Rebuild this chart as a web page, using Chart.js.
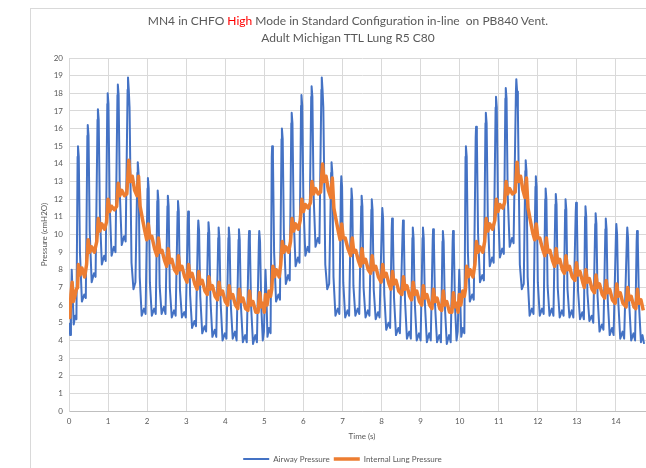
<!DOCTYPE html>
<html>
<head>
<meta charset="utf-8">
<script src="https://cdn.jsdelivr.net/npm/chart.js@4.4.1/dist/chart.umd.min.js"></script>
<style>
  html, body { margin: 0; padding: 0; background: #fff; overflow: hidden; }
  body { width: 646px; height: 468px; position: relative; }
  #frame { position: absolute; left: 30px; top: 8px; width: 700px; height: 470px; border: 1px solid #d9d9d9; box-sizing: border-box; }
  #wrap { position: absolute; left: 30px; top: 8px; width: 636px; height: 465px; }
  #title { position: absolute; left: 30px; top: 12px; width: 636px; text-align: center;
           font-family: Lato, "Open Sans", sans-serif; font-size: 12px; line-height: 17px; color: #595959; }
  #title .hi { color: #ff0000; }
</style>
</head>
<body>
<div id="frame"></div>
<div id="wrap"><canvas id="chart"></canvas></div>
<div id="title">MN4 in CHFO <span class="hi">High</span> Mode in Standard Configuration in-line&nbsp; on PB840 Vent.<br>Adult Michigan TTL Lung R5 C80</div>
<script>
// ── Airway pressure [time s, cmH2O], one line per HF cycle ──
const airwayB1 = [
  [0.00,5.0],[0.03,4.3],[0.05,5.6],[0.07,8.0],[0.09,6.8],[0.12,4.9],[0.16,5.4],[0.19,5.2],
  [0.22,14.4],[0.23,15.0],[0.25,14.4],[0.28,9.0],[0.33,6.2],[0.39,6.6],[0.43,6.4],
  [0.47,15.6],[0.48,16.2],[0.50,15.6],[0.53,10.2],[0.58,7.3],[0.64,7.8],[0.68,7.6],
  [0.73,16.5],[0.74,17.1],[0.76,16.5],[0.79,11.2],[0.84,8.3],[0.90,8.8],[0.94,8.5],
  [0.98,17.4],[0.99,18.0],[1.01,17.4],[1.04,11.8],[1.09,8.8],[1.15,9.3],[1.19,9.0],
  [1.24,17.9],[1.25,18.5],[1.27,17.9],[1.30,12.4],[1.35,9.4],[1.41,9.9],[1.45,9.6],
  [1.50,18.2],[1.51,18.9],[1.53,18.2],[1.55,17.2],[1.60,8.4],[1.65,6.9],[1.70,7.3],
  [1.75,13.5],[1.76,14.1],[1.78,13.5],[1.81,7.6],[1.86,5.4],[1.92,5.8],[1.96,5.5],
  [2.01,12.6],[2.02,13.2],[2.04,12.6],[2.07,7.3],[2.12,5.4],[2.18,5.8],[2.22,5.5],
  [2.26,11.9],[2.27,12.5],[2.29,11.9],[2.32,7.1],[2.37,5.5],[2.43,5.9],[2.47,5.5],
  [2.52,11.6],[2.53,12.2],[2.55,11.6],[2.58,7.0],[2.63,5.3],[2.69,5.7],[2.73,5.4],
  [2.78,11.3],[2.79,11.9],[2.81,11.3],[2.84,6.9],[2.89,5.3],[2.95,5.6],[2.99,5.3],
  [3.04,10.7],[3.05,11.3],[3.07,10.7],[3.10,6.6],[3.15,4.7],[3.21,5.1],[3.25,4.8],
  [3.30,10.2],[3.31,10.8],[3.33,10.2],[3.36,6.5],[3.41,4.4],[3.47,4.8],[3.51,4.5],
  [3.56,10.1],[3.57,10.7],[3.59,10.1],[3.62,6.3],[3.67,4.2],[3.73,4.6],[3.77,4.2],
  [3.82,9.8],[3.83,10.4],[3.85,9.8],[3.88,6.2],[3.93,4.0],[3.99,4.4],[4.03,4.1],
  [4.08,9.8],[4.09,10.4],[4.11,9.8],[4.14,6.1],[4.19,4.1],[4.25,4.5],[4.29,4.0],
  [4.34,9.7],[4.35,10.3],[4.37,9.7],[4.40,6.0],[4.45,3.9],[4.51,4.3],[4.55,3.9],
  [4.60,9.6],[4.61,10.2],[4.63,9.6],[4.66,6.0],[4.71,3.8],[4.77,4.3],[4.81,3.9],
  [4.86,9.6],[4.87,10.2],[4.89,9.6],[4.92,6.0],[4.96,4.0],[4.99,4.5],
];
const airwayB2 = [
  [5.03,8.0],[5.05,6.8],[5.08,4.2],[5.12,4.7],[5.16,4.4],
  [5.19,14.4],[5.20,15.0],[5.22,14.4],[5.25,9.0],[5.30,6.2],[5.36,6.6],[5.40,6.3],
  [5.44,15.4],[5.45,16.0],[5.47,15.4],[5.50,10.1],[5.55,7.2],[5.61,7.7],[5.65,7.4],
  [5.69,16.3],[5.70,16.9],[5.72,16.3],[5.75,11.0],[5.80,8.2],[5.86,8.7],[5.90,8.4],
  [5.94,17.3],[5.95,17.9],[5.97,17.3],[6.00,11.8],[6.05,8.8],[6.11,9.3],[6.15,9.0],
  [6.20,17.8],[6.21,18.4],[6.23,17.8],[6.26,12.3],[6.31,9.3],[6.37,9.8],[6.41,9.5],
  [6.46,18.2],[6.47,18.9],[6.49,18.2],[6.51,17.2],[6.56,8.3],[6.61,6.9],[6.66,7.2],
  [6.71,13.5],[6.72,14.1],[6.74,13.5],[6.77,7.6],[6.82,5.4],[6.88,5.8],[6.92,5.5],
  [6.96,12.7],[6.97,13.3],[6.99,12.7],[7.02,7.3],[7.07,5.3],[7.13,5.7],[7.17,5.4],
  [7.22,12.0],[7.23,12.6],[7.25,12.0],[7.28,7.1],[7.33,5.4],[7.39,5.8],[7.43,5.5],
  [7.48,11.6],[7.49,12.2],[7.51,11.6],[7.54,7.0],[7.59,5.3],[7.65,5.7],[7.69,5.4],
  [7.74,11.4],[7.75,12.0],[7.77,11.4],[7.80,6.9],[7.85,5.2],[7.91,5.6],[7.95,5.3],
  [8.01,10.9],[8.02,11.5],[8.04,10.9],[8.07,6.6],[8.12,4.6],[8.18,5.0],[8.22,4.7],
  [8.26,10.3],[8.27,10.9],[8.29,10.3],[8.32,6.4],[8.37,4.3],[8.43,4.7],[8.47,4.4],
  [8.54,10.2],[8.55,10.8],[8.57,10.2],[8.60,6.3],[8.65,4.1],[8.71,4.5],[8.75,4.1],
  [8.79,9.8],[8.80,10.4],[8.82,9.8],[8.85,6.2],[8.90,4.0],[8.96,4.4],[9.00,4.0],
  [9.05,9.8],[9.06,10.4],[9.08,9.8],[9.11,6.1],[9.16,3.9],[9.22,4.4],[9.26,4.0],
  [9.31,9.7],[9.32,10.3],[9.34,9.7],[9.37,6.0],[9.42,3.9],[9.48,4.3],[9.52,3.9],
  [9.56,9.6],[9.57,10.2],[9.59,9.6],[9.62,6.0],[9.67,3.8],[9.73,4.3],[9.77,3.9],
  [9.82,9.6],[9.83,10.2],[9.85,9.6],[9.88,6.0],[9.92,4.0],[9.95,4.5],
];
const airwayB3 = [
  [9.99,8.0],[10.01,6.8],[10.04,4.2],[10.08,4.7],[10.12,4.4],
  [10.15,14.4],[10.16,15.0],[10.18,14.4],[10.21,9.0],[10.26,6.2],[10.32,6.6],[10.36,6.3],
  [10.41,15.5],[10.42,16.1],[10.44,15.5],[10.47,10.1],[10.52,7.3],[10.58,7.7],[10.62,7.4],
  [10.66,16.3],[10.67,16.9],[10.69,16.3],[10.72,11.0],[10.77,8.2],[10.83,8.7],[10.87,8.4],
  [10.92,17.2],[10.93,17.8],[10.95,17.2],[10.98,11.7],[11.03,8.7],[11.09,9.2],[11.13,8.9],
  [11.17,17.7],[11.18,18.3],[11.20,17.7],[11.23,12.2],[11.28,9.3],[11.34,9.8],[11.38,9.5],
  [11.44,18.1],[11.45,18.8],[11.47,18.1],[11.49,17.1],[11.54,8.3],[11.59,6.9],[11.64,7.2],
  [11.68,13.6],[11.69,14.2],[11.71,13.6],[11.74,7.6],[11.79,5.4],[11.85,5.8],[11.89,5.5],
  [11.94,12.7],[11.95,13.3],[11.97,12.7],[12.00,7.3],[12.05,5.4],[12.11,5.8],[12.15,5.5],
  [12.19,12.0],[12.20,12.6],[12.22,12.0],[12.25,7.1],[12.30,5.4],[12.36,5.8],[12.40,5.4],
  [12.45,11.7],[12.46,12.3],[12.48,11.7],[12.51,7.0],[12.56,5.3],[12.62,5.7],[12.66,5.4],
  [12.70,11.4],[12.71,12.0],[12.73,11.4],[12.76,6.9],[12.81,5.3],[12.87,5.7],[12.91,5.3],
  [12.97,11.2],[12.98,11.8],[13.00,11.2],[13.03,6.8],[13.08,5.2],[13.14,5.6],[13.18,5.2],
  [13.21,11.0],[13.22,11.6],[13.24,11.0],[13.27,6.7],[13.32,5.1],[13.38,5.4],[13.42,5.0],
  [13.47,10.6],[13.48,11.2],[13.50,10.6],[13.53,6.5],[13.58,4.5],[13.64,4.9],[13.68,4.6],
  [13.73,10.3],[13.74,10.9],[13.76,10.3],[13.79,6.3],[13.84,4.3],[13.90,4.7],[13.94,4.3],
  [14.00,10.0],[14.01,10.6],[14.03,10.0],[14.06,6.2],[14.11,4.1],[14.17,4.5],[14.21,4.1],
  [14.28,9.8],[14.29,10.4],[14.31,9.8],[14.34,6.1],[14.39,4.0],[14.45,4.4],[14.49,4.0],
  [14.53,9.6],[14.54,10.2],[14.56,9.6],[14.59,6.0],[14.64,3.9],[14.68,4.3],[14.72,3.8],
];

// ── Internal lung pressure [time s, cmH2O] ──
const lungB1 = [
  [0.00,5.8],[0.02,5.3],[0.05,6.6],[0.08,7.3],[0.11,6.2],[0.15,6.5],[0.19,6.9],
  [0.22,7.0],[0.24,8.3],[0.28,7.7],[0.33,8.1],[0.40,7.6],
  [0.45,8.3],[0.49,9.7],[0.53,9.0],[0.58,9.3],[0.65,9.0],
  [0.71,9.6],[0.75,10.9],[0.79,10.2],[0.84,10.6],[0.91,10.3],
  [0.96,10.7],[1.00,12.0],[1.04,11.3],[1.09,11.6],[1.16,11.4],
  [1.22,11.6],[1.26,12.9],[1.30,12.2],[1.35,12.5],[1.42,12.2],
  [1.48,12.3],[1.53,14.2],[1.57,13.0],[1.62,13.3],[1.68,12.5],
  [1.74,12.2],[1.78,13.3],[1.82,11.6],[1.87,11.0],[1.94,10.2],
  [1.99,9.7],[2.03,10.6],[2.07,9.8],[2.12,9.9],[2.19,9.2],
  [2.25,8.8],[2.29,9.8],[2.33,9.0],[2.38,9.1],[2.45,8.5],
  [2.50,8.2],[2.54,9.2],[2.58,8.4],[2.63,8.6],[2.70,8.0],
  [2.76,7.8],[2.80,8.8],[2.84,8.0],[2.89,8.2],[2.96,7.6],
  [3.02,7.3],[3.06,8.3],[3.10,7.6],[3.15,7.8],[3.22,7.2],
  [3.28,6.9],[3.32,7.9],[3.36,7.2],[3.41,7.4],[3.48,6.8],
  [3.54,6.6],[3.58,7.6],[3.62,6.9],[3.67,7.1],[3.74,6.5],
  [3.80,6.3],[3.84,7.3],[3.88,6.6],[3.93,6.8],[4.00,6.2],
  [4.06,6.0],[4.10,7.1],[4.14,6.4],[4.19,6.6],[4.26,6.0],
  [4.32,5.8],[4.36,6.9],[4.40,6.2],[4.45,6.4],[4.52,5.8],
  [4.58,5.7],[4.62,6.8],[4.66,6.0],[4.71,6.2],[4.78,5.6],
  [4.84,5.6],[4.88,6.7],[4.92,5.9],[4.96,6.1],[5.00,5.6],
];
const lungB2 = [
  [5.03,6.6],[5.07,6.0],[5.12,6.8],[5.16,6.5],
  [5.19,6.9],[5.22,8.2],[5.26,7.6],[5.31,8.0],[5.38,7.6],
  [5.42,8.3],[5.46,9.6],[5.50,9.0],[5.55,9.3],[5.62,9.0],
  [5.67,9.6],[5.71,10.9],[5.75,10.2],[5.80,10.6],[5.87,10.3],
  [5.92,10.8],[5.96,12.0],[6.00,11.3],[6.05,11.7],[6.12,11.5],
  [6.18,11.8],[6.22,13.0],[6.26,12.3],[6.31,12.6],[6.38,12.3],
  [6.44,12.4],[6.49,14.0],[6.53,13.0],[6.58,13.3],[6.64,12.5],
  [6.70,12.1],[6.74,13.2],[6.78,11.5],[6.83,10.9],[6.90,10.1],
  [6.94,9.7],[6.98,10.6],[7.02,9.8],[7.07,9.8],[7.14,9.2],
  [7.21,8.8],[7.25,9.8],[7.29,9.0],[7.34,9.1],[7.41,8.5],
  [7.46,8.2],[7.50,9.2],[7.54,8.4],[7.59,8.6],[7.66,8.0],
  [7.72,7.8],[7.76,8.8],[7.80,8.0],[7.85,8.2],[7.92,7.6],
  [7.99,7.3],[8.03,8.3],[8.07,7.6],[8.12,7.8],[8.19,7.2],
  [8.24,6.9],[8.28,7.9],[8.32,7.2],[8.37,7.4],[8.44,6.8],
  [8.52,6.6],[8.56,7.6],[8.60,6.9],[8.65,7.1],[8.72,6.5],
  [8.77,6.3],[8.81,7.3],[8.85,6.6],[8.90,6.8],[8.97,6.2],
  [9.03,6.0],[9.07,7.1],[9.11,6.4],[9.16,6.6],[9.23,6.0],
  [9.29,5.8],[9.33,6.9],[9.37,6.2],[9.42,6.4],[9.49,5.8],
  [9.54,5.7],[9.58,6.8],[9.62,6.0],[9.67,6.2],[9.74,5.6],
  [9.80,5.6],[9.84,6.7],[9.88,5.9],[9.92,6.1],[9.96,5.6],
];
const lungB3 = [
  [9.99,6.6],[10.03,6.0],[10.08,6.8],[10.12,6.5],
  [10.15,6.9],[10.18,8.2],[10.22,7.6],[10.27,8.0],[10.34,7.6],
  [10.39,8.3],[10.43,9.6],[10.47,9.0],[10.52,9.3],[10.59,9.0],
  [10.64,9.6],[10.68,10.9],[10.72,10.2],[10.77,10.6],[10.84,10.3],
  [10.90,10.8],[10.94,12.0],[10.98,11.3],[11.03,11.7],[11.10,11.5],
  [11.15,11.8],[11.19,13.0],[11.23,12.3],[11.28,12.6],[11.35,12.3],
  [11.42,12.4],[11.47,14.1],[11.51,13.0],[11.56,13.3],[11.62,12.5],
  [11.67,12.1],[11.71,13.2],[11.75,11.5],[11.80,10.9],[11.87,10.1],
  [11.92,9.7],[11.96,10.6],[12.00,9.8],[12.05,9.8],[12.12,9.2],
  [12.18,8.8],[12.22,9.8],[12.26,9.0],[12.31,9.1],[12.38,8.5],
  [12.43,8.2],[12.47,9.2],[12.51,8.4],[12.56,8.6],[12.63,8.0],
  [12.68,7.8],[12.72,8.8],[12.76,8.0],[12.81,8.2],[12.88,7.6],
  [12.95,7.4],[12.99,8.4],[13.03,7.7],[13.08,7.9],[13.15,7.3],
  [13.19,7.0],[13.23,8.0],[13.27,7.3],[13.32,7.5],[13.39,6.9],
  [13.45,6.7],[13.49,7.7],[13.53,7.0],[13.58,7.2],[13.65,6.6],
  [13.71,6.4],[13.75,7.4],[13.79,6.7],[13.84,6.9],[13.91,6.3],
  [13.98,6.1],[14.02,7.2],[14.06,6.5],[14.11,6.7],[14.18,6.1],
  [14.26,5.9],[14.30,7.0],[14.34,6.3],[14.39,6.5],[14.46,5.9],
  [14.51,5.8],[14.55,6.9],[14.59,6.1],[14.64,6.3],[14.70,5.7],
];

const seriesNames = ['Airway Pressure', 'Internal Lung Pressure'];
const yTicks = { min: 0, max: 20, step: 1 };
const xTicks = { min: 0, max: 15, step: 1 };

const toXY = rows => rows.map(([x, y]) => ({ x, y }));
const FONT = 'Lato, "Open Sans", sans-serif';
const GREY = '#595959';

new Chart(document.getElementById('chart'), {
  type: 'line',
  data: {
    datasets: [
      { label: seriesNames[0], data: toXY([...airwayB1, ...airwayB2, ...airwayB3]),
        borderColor: '#4472c4', backgroundColor: '#4472c4', borderWidth: 2, order: 2 },
      { label: seriesNames[1], data: toXY([...lungB1, ...lungB2, ...lungB3]),
        borderColor: '#ed7d31', backgroundColor: '#ed7d31', borderWidth: 3.5, order: 1 },
    ]
  },
  options: {
    responsive: true, maintainAspectRatio: false, animation: false,
    elements: { point: { radius: 0 }, line: { tension: 0, borderJoinStyle: 'round' } },
    layout: { padding: { top: 50, right: 11, left: 0, bottom: 0 } },
    plugins: {
      legend: {
        position: 'bottom',
        labels: { color: GREY, font: { family: FONT, size: 8 }, usePointStyle: true,
                  pointStyle: 'line', pointStyleWidth: 26, padding: 4,
                  sort: (a, b) => a.datasetIndex - b.datasetIndex }
      },
      tooltip: { enabled: false },
    },
    scales: {
      x: {
        type: 'linear', min: xTicks.min, max: xTicks.max,
        ticks: { stepSize: xTicks.step, color: GREY, font: { family: FONT, size: 8 }, padding: 6 },
        grid: { color: '#d9d9d9', drawTicks: false },
        border: { color: '#bfbfbf' },
        title: { display: true, text: 'Time (s)', color: GREY, font: { family: FONT, size: 8 }, padding: { top: 4, bottom: 10 } },
        afterFit: s => { s.height = 40; },
      },
      y: {
        min: yTicks.min, max: yTicks.max,
        ticks: { stepSize: yTicks.step, color: GREY, font: { family: FONT, size: 8 }, padding: 6 },
        grid: { color: '#d9d9d9', drawTicks: false },
        border: { color: '#d9d9d9' },
        title: { display: true, text: 'Pressure (cmH2O)', color: GREY, font: { family: FONT, size: 8 }, padding: 10 },
        afterFit: s => { s.width = 39; },
      }
    }
  }
});
</script>
</body>
</html>
